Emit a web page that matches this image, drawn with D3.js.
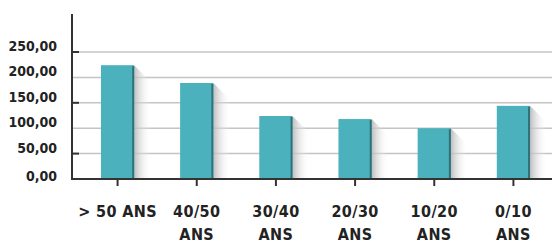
<!DOCTYPE html>
<html>
<head>
<meta charset="utf-8">
<script src="https://cdn.jsdelivr.net/npm/d3@7"></script>
<style>
  body { margin: 0; background: #fff; }
  text { font-family: "DejaVu Sans Condensed", "DejaVu Sans", sans-serif; font-weight: bold; fill: #222; }
</style>
</head>
<body>
<svg width="552" height="244"></svg>
<script>
// age groups and values
const categories = ["> 50 ANS", "40/50 ANS", "30/40 ANS", "20/30 ANS", "10/20 ANS", "0/10 ANS"];
const values = [224, 189, 124, 118, 100, 144];
const yTicks = [0, 50, 100, 150, 200, 250];

const svg = d3.select("svg");
const plotLeft = 72, plotBottom = 179, plotTop = 52;

const x = d3.scaleBand()
  .domain(categories)
  .range([78, 553])
  .paddingInner(0.58)
  .paddingOuter(0.29);

const y = d3.scaleLinear()
  .domain([0, 250])
  .range([plotBottom, plotTop]);

// shadow gradient
const defs = svg.append("defs");
const grad = defs.append("linearGradient").attr("id", "shade");
grad.append("stop").attr("offset", "0%").attr("stop-color", "#b8b8b8").attr("stop-opacity", 0.9);
grad.append("stop").attr("offset", "100%").attr("stop-color", "#ffffff").attr("stop-opacity", 0);

// gridlines
svg.append("g")
  .selectAll("line")
  .data(yTicks.slice(1))
  .enter()
  .append("line")
  .attr("x1", plotLeft)
  .attr("x2", 552)
  .attr("y1", d => y(d))
  .attr("y2", d => y(d))
  .attr("stroke", "#c4c4c4")
  .attr("stroke-width", 1.5);

// y labels (sit a bit above their lines)
svg.append("g")
  .selectAll("text")
  .data(yTicks)
  .enter()
  .append("text")
  .attr("x", 57)
  .attr("y", d => y(d) - 6 + (d === 0 ? 3 : 0))
  .attr("dy", "0.35em")
  .attr("text-anchor", "end")
  .style("font-size", "14px")
  .text(d => d3.format(".2f")(d).replace(".", ","));

// small tick marks on the y axis
svg.append("g")
  .selectAll("line")
  .data([50, 150, 250])
  .enter()
  .append("line")
  .attr("x1", plotLeft)
  .attr("x2", plotLeft + 7)
  .attr("y1", d => y(d))
  .attr("y2", d => y(d))
  .attr("stroke", "#333")
  .attr("stroke-width", 2);

const bars = svg.append("g")
  .selectAll("g")
  .data(categories)
  .enter()
  .append("g");

// shadow to the right
bars.append("path")
  .attr("d", (d, i) => {
    const x1 = x(d) + x.bandwidth();
    const t = y(values[i]);
    const off = 17;
    return `M${x1},${t} L${x1 + off},${t + off} L${x1 + off},${plotBottom} L${x1},${plotBottom} Z`;
  })
  .attr("fill", "url(#shade)");

bars.append("rect")
  .attr("x", d => x(d))
  .attr("y", (d, i) => y(values[i]))
  .attr("width", x.bandwidth())
  .attr("height", (d, i) => plotBottom - y(values[i]))
  .attr("fill", "#4bb1bc");

bars.append("rect")
  .attr("x", d => x(d) + x.bandwidth() - 2)
  .attr("y", (d, i) => y(values[i]) + 1)
  .attr("width", 2)
  .attr("height", (d, i) => plotBottom - y(values[i]) - 1)
  .attr("fill", "#2f7179");

// axes lines
svg.append("line")
  .attr("x1", plotLeft).attr("x2", plotLeft)
  .attr("y1", 14).attr("y2", plotBottom + 1)
  .attr("stroke", "#333").attr("stroke-width", 2);
svg.append("line")
  .attr("x1", plotLeft).attr("x2", 552)
  .attr("y1", plotBottom).attr("y2", plotBottom)
  .attr("stroke", "#333").attr("stroke-width", 2);

// x tick marks
svg.append("g")
  .selectAll("line")
  .data(categories)
  .enter()
  .append("line")
  .attr("x1", d => x(d) + x.bandwidth() / 2)
  .attr("x2", d => x(d) + x.bandwidth() / 2)
  .attr("y1", plotBottom)
  .attr("y2", plotBottom + 7)
  .attr("stroke", "#333")
  .attr("stroke-width", 2);

// x labels, wrapped onto two lines except the first
svg.append("g")
  .selectAll("text")
  .data(categories)
  .enter()
  .append("text")
  .attr("x", d => x(d) + x.bandwidth() / 2)
  .attr("y", 217)
  .attr("text-anchor", "middle")
  .style("font-size", "16px")
  .style("letter-spacing", "0.4px")
  .each(function (d, i) {
    const lines = i === 0 ? [d] : d.split(" ");
    d3.select(this).selectAll("tspan")
      .data(lines)
      .enter()
      .append("tspan")
      .attr("x", x(d) + x.bandwidth() / 2)
      .attr("dy", (l, j) => j === 0 ? 0 : 23)
      .text(l => l);
  });
</script>
</body>
</html>
